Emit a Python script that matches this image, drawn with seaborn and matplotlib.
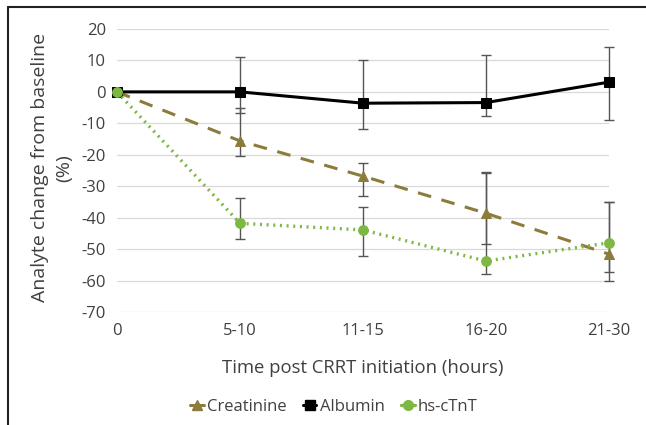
import numpy as np
import seaborn as sns
import matplotlib.pyplot as plt
from matplotlib.lines import Line2D

time_labels = ["0", "5-10", "11-15", "16-20", "21-30"]

creatinine = [0, -15.6, -26.8, -38.6, -51.6]
creatinine_lo = [0, -20.3, -33.0, -48.4, -57.4]
creatinine_hi = [0, -5.2, -22.7, -25.4, -35.1]

albumin = [0, 0.0, -3.6, -3.4, 3.1]
albumin_lo = [0, -6.8, -11.8, -7.6, -9.0]
albumin_hi = [0, 11.0, 10.2, 11.6, 14.2]

hs_ctnt = [0, -41.8, -43.9, -53.8, -48.0]
hs_ctnt_lo = [0, -46.8, -52.1, -57.9, -60.1]
hs_ctnt_hi = [0, -33.8, -36.5, -25.9, -35.1]

sns.set_style("white")
plt.rcParams["font.family"] = ["Open Sans", "DejaVu Sans"]
plt.rcParams["axes.unicode_minus"] = False

c_creat = "#8c7c3c"
c_alb = "#000000"
c_hs = "#7db843"
txt = "#404040"

fig = plt.figure(figsize=(6.46, 4.25), dpi=100)
ax = fig.add_axes([0.1811, 0.2659, 0.7616, 0.6659])

x = np.arange(len(time_labels))

# error bars first, underneath the lines
for vals, lo, hi in [
    (albumin, albumin_lo, albumin_hi),
    (creatinine, creatinine_lo, creatinine_hi),
    (hs_ctnt, hs_ctnt_lo, hs_ctnt_hi),
]:
    v = np.array(vals)
    eb = ax.errorbar(
        x[1:], v[1:],
        yerr=[v[1:] - np.array(lo)[1:], np.array(hi)[1:] - v[1:]],
        fmt="none", ecolor="#555555", elinewidth=1.0, capsize=3.5, capthick=1.0,
        zorder=2,
    )
    for art in eb.lines[1] + eb.lines[2]:
        art.set_clip_on(False)

sns.lineplot(x=x, y=albumin, ax=ax, color=c_alb, marker="s", markersize=6.5,
             markeredgecolor=c_alb, lw=2.2, zorder=4, clip_on=False)
sns.lineplot(x=x, y=creatinine, ax=ax, color=c_creat, marker="^", markersize=7,
             markeredgecolor=c_creat, lw=2.2, linestyle=(0, (4.5, 3.5)), zorder=3,
             clip_on=False)
sns.lineplot(x=x, y=hs_ctnt, ax=ax, color=c_hs, marker="o", markersize=7,
             markeredgecolor=c_hs, lw=2.4, linestyle=(0, (0.6, 1.4)), zorder=5,
             clip_on=False)

ax.set_xlim(0, 4)
ax.set_ylim(-70, 20)
ax.set_yticks(np.arange(-70, 21, 10))
ax.set_xticks(x)
ax.set_xticklabels(time_labels)
ax.yaxis.grid(True, color="#d9d9d9", lw=0.9)
ax.xaxis.grid(False)
for s in ax.spines.values():
    s.set_visible(False)
ax.tick_params(axis="y", length=4, color="#d9d9d9", labelsize=12, labelcolor=txt, pad=4)
ax.tick_params(axis="x", length=0, labelsize=12, labelcolor=txt, pad=8)

ax.set_xlabel("Time post CRRT initiation (hours)", fontsize=13.3, color=txt, labelpad=14)
ax.set_ylabel("Analyte change from baseline\n(%)", fontsize=14, color=txt,
              linespacing=1.5)
ax.yaxis.set_label_coords(-0.088, 0.51)

handles = [
    Line2D([], [], color=c_creat, marker="^", markersize=7, lw=2.2),
    Line2D([], [], color=c_alb, marker="s", markersize=6.5, lw=2.2),
    Line2D([], [], color=c_hs, marker="o", markersize=7, lw=2.4),
]
fig.legend(handles, ["Creatinine", "Albumin", "hs-cTnT"], loc="center",
           bbox_to_anchor=(0.517, 0.043), ncol=3, frameon=False, fontsize=12,
           handlelength=0.8, handletextpad=0.2, columnspacing=1.0,
           labelcolor=txt)

# frame lines at the top and left of the image
fig.add_artist(Line2D([0.0124, 0.0124], [0, 0.983], color="#222222", lw=1.5))
fig.add_artist(Line2D([0.0124, 1.0], [0.983, 0.983], color="#222222", lw=1.5))

fig.savefig("out.png", dpi=100)
